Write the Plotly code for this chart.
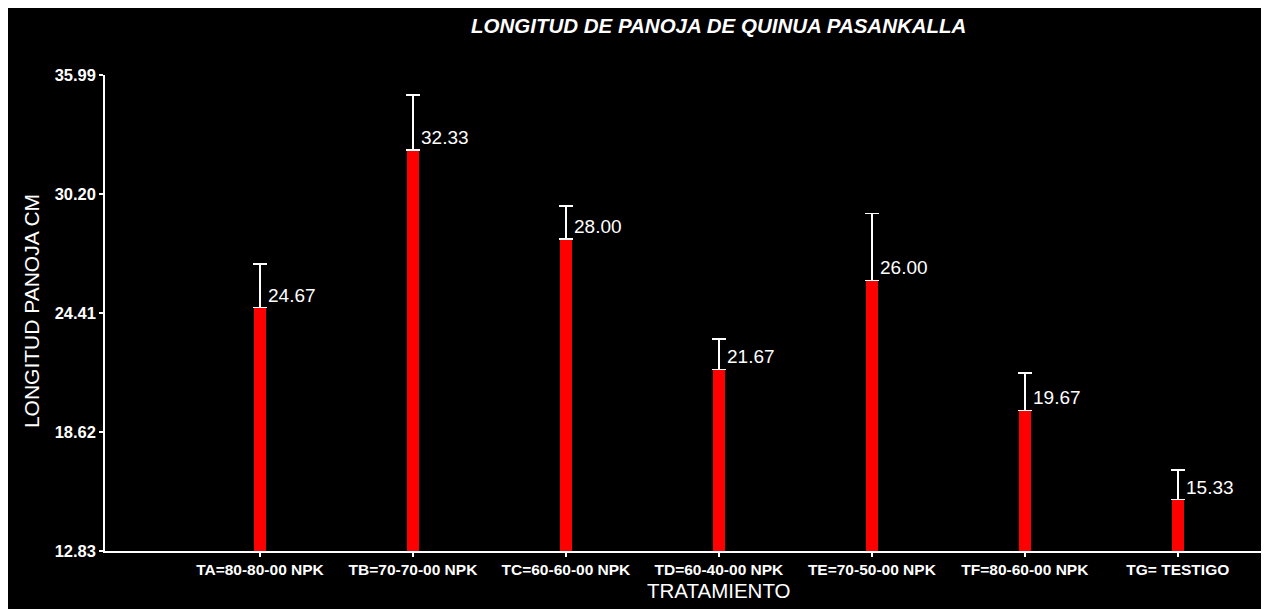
import plotly.graph_objects as go

categories = ["TA=80-80-00 NPK", "TB=70-70-00 NPK", "TC=60-60-00 NPK",
              "TD=60-40-00 NPK", "TE=70-50-00 NPK", "TF=80-60-00 NPK", "TG= TESTIGO"]
means = [24.67, 32.33, 28.00, 21.67, 26.00, 19.67, 15.33]
errors = [2.13, 2.69, 1.63, 1.48, 3.26, 1.81, 1.44]
y_ticks = [12.83, 18.62, 24.41, 30.20, 35.99]

positions = list(range(1, len(categories) + 1))
FONT = "Arial, Liberation Sans, sans-serif"

fig = go.Figure()
fig.add_trace(go.Bar(
    x=positions, y=means, width=0.078,
    marker=dict(color="#ff0000", line=dict(width=0)),
    error_y=dict(type="data", symmetric=False, array=errors,
                 arrayminus=[0] * len(errors), color="white",
                 thickness=1.6, width=7),
    hoverinfo="x+y", showlegend=False,
))

for p, m in zip(positions, means):
    fig.add_annotation(x=p, y=m, text=f"{m:.2f}", showarrow=False,
                       xanchor="left", yanchor="middle", xshift=6, yshift=12.5,
                       font=dict(family=FONT, size=19, color="white"))

fig.add_annotation(xref="paper", yref="paper", x=0.529, y=1.105,
                   text="<b><i>LONGITUD DE PANOJA DE QUINUA PASANKALLA</i></b>",
                   showarrow=False, xanchor="center", yanchor="middle",
                   font=dict(family=FONT, size=20.5, color="white"))
fig.add_annotation(xref="paper", yref="paper", x=0.529, y=-0.082,
                   text="TRATAMIENTO", showarrow=False,
                   xanchor="center", yanchor="middle",
                   font=dict(family=FONT, size=20.5, color="white"))
fig.add_annotation(xref="paper", yref="paper", x=-0.0638, y=0.504,
                   text="LONGITUD PANOJA CM", showarrow=False, textangle=-90,
                   xanchor="center", yanchor="middle",
                   font=dict(family=FONT, size=21, color="white"))

fig.update_layout(
    width=1257, height=601,
    margin=dict(l=97, r=0, t=67, b=58, pad=0),
    paper_bgcolor="black", plot_bgcolor="black",
    font=dict(family=FONT, color="white"),
    bargap=0,
)
fig.update_xaxes(
    range=[-0.013, 7.57], tickmode="array", tickvals=positions,
    ticktext=[f"<b>{c}</b>" for c in categories],
    showline=True, linecolor="white", linewidth=1.5,
    ticks="outside", ticklen=4, tickcolor="white", tickwidth=1.5,
    showgrid=False, zeroline=False,
    tickfont=dict(family=FONT, size=15.5, color="white"),
)
fig.update_yaxes(
    range=[12.83, 35.99], tickmode="array", tickvals=y_ticks,
    ticktext=[f"<b>{v:.2f}</b>" for v in y_ticks],
    showline=True, linecolor="white", linewidth=1.5,
    ticks="outside", ticklen=4, tickcolor="white", tickwidth=1.5,
    showgrid=False, zeroline=False,
    tickfont=dict(family=FONT, size=16.5, color="white"),
)

fig.write_html("out.html")
